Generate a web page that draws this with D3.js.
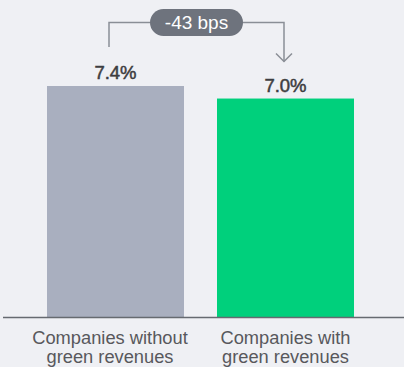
<!DOCTYPE html>
<html><head><meta charset="utf-8">
<script src="https://cdn.jsdelivr.net/npm/d3@7"></script>
<style>html,body{margin:0;padding:0;background:#eff0f4;}svg{display:block;}</style>
</head><body>
<svg id="c" width="404" height="367"></svg>
<script>
const categories = ["Companies without green revenues", "Companies with green revenues"];
const labelLines = [["Companies without", "green revenues"], ["Companies with", "green revenues"]];
const values = [7.4, 7.0];
const valueLabels = ["7.4%", "7.0%"];
const colors = ["#a9afbf", "#00d07c"];
const diffLabel = "-43 bps";

const svg = d3.select("#c");
const font = "'Liberation Sans', Arial, Helvetica, sans-serif";
const x = d3.scaleBand().domain(categories).range([30, 371]).paddingInner(33 / 170).paddingOuter(0.1);
const y = d3.scaleLinear().domain([0, 7.4]).range([318, 86]);
const labelShift = [-5.5, 0];

svg.selectAll("rect.bar").data(values).join("rect").attr("class", "bar")
  .attr("x", (d, i) => x(categories[i])).attr("width", x.bandwidth())
  .attr("y", d => y(d)).attr("height", d => y(0) - y(d))
  .attr("fill", (d, i) => colors[i]);

svg.append("line").attr("x1", 3).attr("x2", 404).attr("y1", y(0) - 0.5).attr("y2", y(0) - 0.5)
  .attr("stroke", "#666a70").attr("stroke-width", 1.5);

svg.selectAll("text.val").data(values).join("text").attr("class", "val")
  .attr("x", (d, i) => x(categories[i]) + x.bandwidth() / 2)
  .attr("y", d => y(d) - 7)
  .attr("text-anchor", "middle").attr("font-family", font).attr("font-size", 18.5)
  .attr("fill", "#3d3d40").attr("stroke", "#3d3d40").attr("stroke-width", 0.5)
  .text((d, i) => valueLabels[i]);

const lab = svg.selectAll("text.lab").data(categories).join("text").attr("class", "lab")
  .attr("text-anchor", "middle").attr("font-family", font).attr("font-size", 18.3).attr("fill", "#58585c");
lab.each(function (d, i) {
  const t = d3.select(this);
  labelLines[i].forEach((ln, k) => {
    t.append("tspan").attr("x", x(d) + x.bandwidth() / 2 + labelShift[i]).attr("y", 344 + k * 19).text(ln);
  });
});

// bracket
const cx1 = x(categories[0]) + x.bandwidth() / 2 - 6.5;
const cx2 = x(categories[1]) + x.bandwidth() / 2 - 1.5;
const by = 22.5;
svg.append("path")
  .attr("d", `M${cx1},${y(values[0]) - 39} V${by} H${cx2} V${y(values[1]) - 37}`)
  .attr("fill", "none").attr("stroke", "#8a8e96").attr("stroke-width", 1.5);
const ay = y(values[1]) - 37;
svg.append("path")
  .attr("d", `M${cx2 - 8},${ay - 8} L${cx2},${ay} L${cx2 + 8},${ay - 8}`)
  .attr("fill", "none").attr("stroke", "#8a8e96").attr("stroke-width", 1.5);
const pw = 93, ph = 27, pcx = 196.5;
svg.append("rect").attr("x", pcx - pw / 2).attr("y", by - ph / 2).attr("width", pw).attr("height", ph)
  .attr("rx", ph / 2).attr("fill", "#6e737d");
svg.append("text").attr("x", pcx).attr("y", by + 6.5).attr("text-anchor", "middle")
  .attr("font-family", font).attr("font-size", 19).attr("fill", "#ffffff").text(diffLabel);
</script>
</body></html>
